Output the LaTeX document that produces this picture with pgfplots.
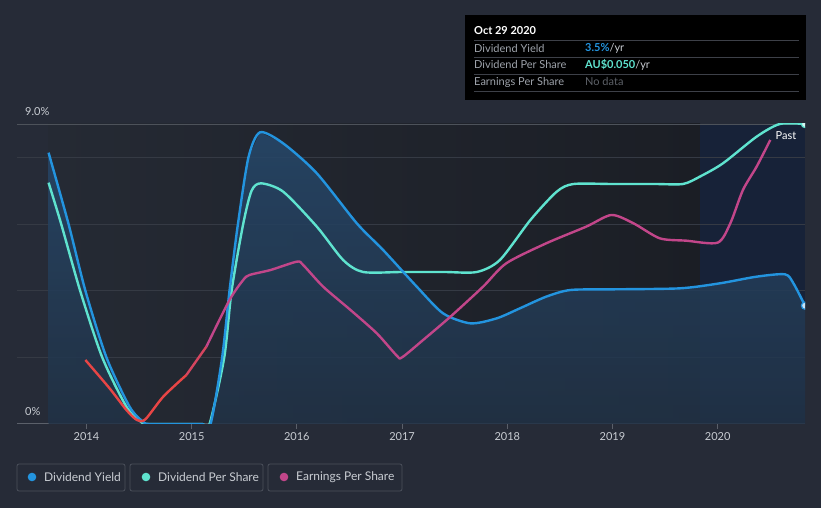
\documentclass[border=0pt]{standalone}
\usepackage{fontspec}
\setmainfont{Lato}
\usepackage{pgfplots}
\pgfplotsset{compat=1.18}
\definecolor{bg}{HTML}{262B37}
\definecolor{plotL}{HTML}{252A34}
\definecolor{plotR}{HTML}{1B1E25}
\definecolor{pastc}{HTML}{172238}
\definecolor{dy}{HTML}{2394DF}
\definecolor{dps}{HTML}{5FE3CF}
\definecolor{eps}{HTML}{C2468A}
\definecolor{epsred}{HTML}{E84545}
\definecolor{epsmid}{HTML}{D5455F}
\definecolor{gridc}{HTML}{353A44}
\definecolor{axisc}{HTML}{5B606A}
\definecolor{txt}{HTML}{C9CDD3}
\definecolor{fillT}{HTML}{26486B}
\definecolor{fillB}{HTML}{213246}
\definecolor{ttlabel}{HTML}{9EA3AB}
\definecolor{ttline}{HTML}{3D4048}
\definecolor{ttdim}{HTML}{5D6168}
\definecolor{legbox}{HTML}{4B505B}
\begin{document}
\begin{tikzpicture}[x=1pt,y=1pt]
\fill[bg] (0,0) rectangle (821,508);
\shade[left color=plotL, right color=plotR] (48,84) rectangle (700,384);
\fill[pastc] (700,84) rectangle (805,384);
\begin{axis}[
  at={(17pt,84pt)}, anchor=south west,
  scale only axis, width=788pt, height=300pt,
  xmin=2013.34, xmax=2020.83, ymin=0, ymax=9,
  axis x line*=bottom, axis y line*=left,
  y axis line style={draw=none},
  x axis line style={color=axisc, line width=1pt},
  xtick={2014,2015,2016,2017,2018,2019,2020},
  xticklabels={2014,2015,2016,2017,2018,2019,2020},
  xtick style={color=axisc, line width=0.8pt},
  tick align=outside, major tick length=5pt,
  xticklabel style={font=\fontsize{11}{13}\selectfont, text=txt},
  ytick={2,4,6,8}, yticklabels={}, ytick style={draw=none},
  ymajorgrids, grid style={color=gridc, line width=0.8pt},
  enlargelimits=false,
  clip marker paths=true,
]
\addplot[draw=none, top color=fillT, bottom color=fillB, fill opacity=0.85] coordinates {
(2013.64,8.14) (2013.83,6.0) (2013.99,4.0) (2014.19,2.0) (2014.41,0.52) (2014.54,0.06) (2014.60,0) (2014.9,0) (2015.1,0) (2015.18,0) (2015.29,2.0) (2015.36,4.0) (2015.44,6.0) (2015.54,8.0) (2015.65,8.75) (2015.87,8.42) (2016.19,7.52) (2016.57,6.02) (2016.82,5.22) (2017.14,4.12) (2017.39,3.32) (2017.65,3.02) (2017.90,3.17) (2018.12,3.47) (2018.37,3.82) (2018.6,4.02) (2019.0,4.04) (2019.64,4.07) (2020.02,4.22) (2020.37,4.42) (2020.64,4.49) (2020.72,4.22) (2020.83,3.55)
} \closedcycle;
\draw[color=axisc!85!black, line width=0.9pt] (axis cs:2013.34,9) -- (axis cs:2020.83,9);
\addplot[color=dps, line width=2.4pt, smooth, tension=0.45] coordinates {
(2013.64,7.24) (2013.76,6.0) (2013.94,4.0) (2014.15,2.0) (2014.38,0.52) (2014.52,0.06) (2014.58,0) (2014.9,0) (2015.1,0) (2015.17,0) (2015.31,2.0) (2015.38,4.0) (2015.49,6.0) (2015.57,7.0) (2015.66,7.22) (2015.87,6.97) (2016.19,5.92) (2016.44,4.92) (2016.63,4.56) (2017.0,4.56) (2017.4,4.56) (2017.71,4.56) (2017.93,4.92) (2018.22,6.12) (2018.47,6.97) (2018.63,7.2) (2019.0,7.2) (2019.4,7.2) (2019.67,7.2) (2019.83,7.42) (2020.05,7.82) (2020.37,8.62) (2020.59,9.0) (2020.83,9.0)
};
\addplot[color=dy, line width=2.4pt, smooth, tension=0.45] coordinates {
(2013.64,8.14) (2013.83,6.0) (2013.99,4.0) (2014.19,2.0) (2014.41,0.52) (2014.54,0.06) (2014.60,0) (2014.9,0) (2015.1,0) (2015.18,0) (2015.29,2.0) (2015.36,4.0) (2015.44,6.0) (2015.54,8.0) (2015.65,8.75) (2015.87,8.42) (2016.19,7.52) (2016.57,6.02) (2016.82,5.22) (2017.14,4.12) (2017.39,3.32) (2017.65,3.02) (2017.90,3.17) (2018.12,3.47) (2018.37,3.82) (2018.6,4.02) (2019.0,4.04) (2019.64,4.07) (2020.02,4.22) (2020.37,4.42) (2020.64,4.49) (2020.72,4.22) (2020.83,3.55)
};
\addplot[color=epsred, line width=2.4pt, smooth, tension=0.45] coordinates {
(2013.99,1.92) (2014.22,1.07) (2014.38,0.42) (2014.48,0.12) (2014.56,0.14) (2014.73,0.82) (2014.95,1.47)
};
\addplot[color=epsmid, line width=2.4pt, smooth, tension=0.45] coordinates {
(2014.95,1.47) (2015.14,2.32)
};
\addplot[color=eps, line width=2.4pt, smooth, tension=0.45] coordinates {
(2015.14,2.32) (2015.36,3.72) (2015.49,4.32) (2015.55,4.47) (2015.75,4.62) (2016.0,4.87) (2016.06,4.77) (2016.25,4.12) (2016.51,3.42) (2016.76,2.72) (2016.95,2.05) (2017.0,2.0) (2017.2,2.52) (2017.46,3.22) (2017.77,4.12) (2017.99,4.82) (2018.37,5.42) (2018.75,5.92) (2018.99,6.27) (2019.2,6.02) (2019.45,5.57) (2019.7,5.5) (2020.0,5.44) (2020.12,6.02) (2020.24,7.02) (2020.37,7.72) (2020.5,8.52)
};
\addplot[only marks, mark=*, mark size=3.6pt, mark options={draw=dy, fill=dy!25!white, line width=1.2pt}] coordinates {(2020.83,3.55)};
\addplot[only marks, mark=*, mark size=3.6pt, mark options={draw=dps, fill=dps!25!white, line width=1.2pt}] coordinates {(2020.83,9.0)};
\end{axis}
% y labels
\node[anchor=west, text=txt, font=\fontsize{11}{13}\selectfont, inner sep=0pt] at (25,396) {9.0\%};
\node[anchor=west, text=txt, font=\fontsize{11}{13}\selectfont, inner sep=0pt] at (25,96) {0\%};
\node[text=white, font=\fontsize{11}{13}\selectfont, inner sep=0pt] at (786,372) {Past};
% tooltip
\fill[black] (465,408) rectangle (806,493);
\node[anchor=west, text=white, font=\bfseries\fontsize{11}{13}\selectfont, inner sep=0pt] at (474,477) {Oct 29 2020};
\foreach \yy in {468,451,434,417} {\draw[ttline, line width=0.8pt] (474,\yy) -- (799,\yy);}
\node[anchor=west, text=ttlabel, font=\fontsize{11}{13}\selectfont, inner sep=0pt] at (474,460) {Dividend Yield};
\node[anchor=west, text=ttlabel, font=\fontsize{11}{13}\selectfont, inner sep=0pt] at (474,443) {Dividend Per Share};
\node[anchor=west, text=ttlabel, font=\fontsize{11}{13}\selectfont, inner sep=0pt] at (474,426) {Earnings Per Share};
\node[anchor=west, font=\fontsize{11}{13}\selectfont, inner sep=0pt] at (585,460) {\textcolor{dy}{\bfseries 3.5\%}\textcolor{txt}{ /yr}};
\node[anchor=west, font=\fontsize{11}{13}\selectfont, inner sep=0pt] at (585,443) {\textcolor{dps}{\bfseries AU\$0.050}\textcolor{txt}{ /yr}};
\node[anchor=west, text=ttdim, font=\fontsize{11}{13}\selectfont, inner sep=0pt] at (585,426) {No data};
% legend
\draw[legbox, line width=0.8pt, rounded corners=2pt] (17,17) rectangle (125,44);
\draw[legbox, line width=0.8pt, rounded corners=2pt] (130,17) rectangle (263,44);
\draw[legbox, line width=0.8pt, rounded corners=2pt] (268,17) rectangle (402,44);
\fill[dy] (32,31) circle (4.3);
\fill[dps] (146,31) circle (4.3);
\fill[eps] (284,31) circle (4.3);
\node[anchor=west, text=txt, font=\fontsize{12}{14}\selectfont, inner sep=0pt] at (44,31) {Dividend Yield};
\node[anchor=west, text=txt, font=\fontsize{12}{14}\selectfont, inner sep=0pt] at (158,31) {Dividend Per Share};
\node[anchor=west, text=txt, font=\fontsize{12}{14}\selectfont, inner sep=0pt] at (296,31) {Earnings Per Share};
\pgfresetboundingbox
\useasboundingbox (0,0) rectangle (821,508);
\end{tikzpicture}
\end{document}
